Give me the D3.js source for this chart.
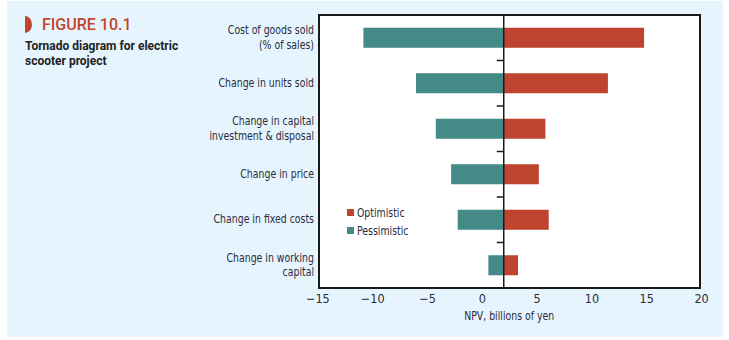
<!DOCTYPE html>
<html>
<head>
<meta charset="utf-8">
<script src="https://cdn.jsdelivr.net/npm/d3@7"></script>
<style>
  html, body { margin: 0; padding: 0; background: #fff; }
  svg { display: block; }
  .lbl { font-family: "Liberation Sans Narrow", "DejaVu Sans Condensed", sans-serif; font-size: 12.7px; fill: #2b2b3d; }
</style>
</head>
<body>
<svg id="chart" width="729" height="340"></svg>
<script>
// tornado data, NPV in billions of yen
const categories = [
  ["Cost of goods sold", "(% of sales)"],
  ["Change in units sold"],
  ["Change in capital", "investment & disposal"],
  ["Change in price"],
  ["Change in fixed costs"],
  ["Change in working", "capital"]
];
const pessimistic = [-10.8, -6.0, -4.2, -2.8, -2.2, 0.6];
const optimistic = [14.8, 11.5, 5.8, 5.2, 6.1, 3.3];
const baseNPV = 2.0;
const xTicks = [-15, -10, -5, 0, 5, 10, 15, 20];

const red = "#bf4430", teal = "#448a87";
const squeeze = 0.82; // condensed look

const svg = d3.select("#chart");
svg.append("rect").attr("x", 7).attr("y", 1).attr("width", 716).attr("height", 336).attr("fill", "#e6f5fd");

const margin = {top: 15, right: 29, bottom: 52, left: 319};
const width = 729 - margin.left - margin.right;
const height = 340 - margin.top - margin.bottom;

const x = d3.scaleLinear().domain([-14.85, 19.9]).range([0, width]);
const y = d3.scaleBand().domain(d3.range(categories.length)).range([0, height])
  .paddingInner(0.56).paddingOuter(0.28);

const g = svg.append("g").attr("transform", `translate(${margin.left},${margin.top})`);

// narrow text helper
function label(parent, tx, ty, str, anchor) {
  return parent.append("text").attr("class", "lbl")
    .attr("text-anchor", anchor || "start")
    .attr("transform", `translate(${tx},${ty}) scale(${squeeze},1)`)
    .text(str);
}

g.append("rect").attr("width", width).attr("height", height).attr("fill", "#fff");

// bars
g.selectAll(".pess").data(pessimistic).enter().append("rect")
  .attr("x", d => x(Math.min(d, baseNPV)))
  .attr("y", (d, i) => y(i))
  .attr("width", d => Math.abs(x(baseNPV) - x(d)))
  .attr("height", y.bandwidth())
  .attr("fill", teal);

g.selectAll(".opt").data(optimistic).enter().append("rect")
  .attr("x", x(baseNPV))
  .attr("y", (d, i) => y(i))
  .attr("width", d => x(d) - x(baseNPV))
  .attr("height", y.bandwidth())
  .attr("fill", red);

// center line with ticks between categories
g.append("line")
  .attr("x1", x(baseNPV)).attr("x2", x(baseNPV))
  .attr("y1", 0).attr("y2", height)
  .attr("stroke", "#1a1a1a").attr("stroke-width", 1.5);

const bounds = d3.range(1, categories.length).map(i => y(i) - y.step() * y.paddingInner() / 2);
g.selectAll(".ctick").data(bounds).enter().append("line")
  .attr("x1", x(baseNPV) - 7).attr("x2", x(baseNPV))
  .attr("y1", d => d).attr("y2", d => d)
  .attr("stroke", "#1a1a1a").attr("stroke-width", 1.5);

// frame
g.append("rect").attr("width", width).attr("height", height)
  .attr("fill", "none").attr("stroke", "#1a1a1a").attr("stroke-width", 2);

// category labels
categories.forEach((lines, i) => {
  const cy = y(i) + y.bandwidth() / 2;
  lines.forEach((s, j) => {
    label(g, -5, cy + 3.7 + (j - (lines.length - 1) / 2) * 14.5, s, "end");
  });
});

// x axis
const xAxis = g.append("g").attr("transform", `translate(0,${height})`)
  .call(d3.axisBottom(x).tickValues(xTicks).tickSize(0).tickPadding(6)
    .tickFormat(d => d < 0 ? "\u2212" + Math.abs(d) : d));
xAxis.select(".domain").remove();
xAxis.selectAll("text").attr("class", "lbl").style("font-size", "12.5px");

label(g, x(2.5), height + 31.5, "NPV, billions of yen", "middle");

// legend
const legend = g.append("g").attr("transform", "translate(28,194)");
[["Optimistic", red], ["Pessimistic", teal]].forEach(([name, c], i) => {
  legend.append("rect").attr("x", 0).attr("y", i * 18).attr("width", 7).attr("height", 7).attr("fill", c);
  label(legend, 10, i * 18 + 7.5, name);
});

// figure title
svg.append("path")
  .attr("d", "M25,16 A7,8.5 0 0 1 25,33 Z")
  .attr("fill", "#c5432c");
svg.append("text").attr("x", 42).attr("y", 30)
  .style("font-family", "Roboto, 'Liberation Sans', sans-serif").style("font-size", "16px")
  .style("font-weight", "500").attr("fill", "#c5432c").text("FIGURE 10.1");
const sub = svg.append("text")
  .style("font-family", "Roboto, 'Liberation Sans', sans-serif").style("font-size", "12px")
  .style("font-weight", "bold").attr("fill", "#222");
sub.append("tspan").attr("x", 25).attr("y", 50).text("Tornado diagram for electric");
sub.append("tspan").attr("x", 25).attr("y", 64.5).text("scooter project");
</script>
</body>
</html>
